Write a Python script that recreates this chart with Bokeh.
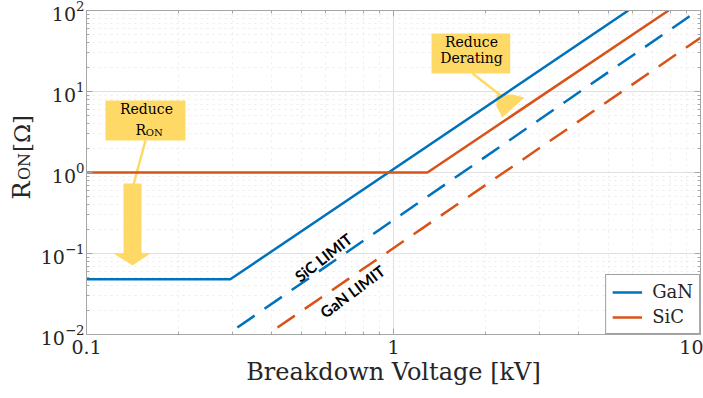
import math

from bokeh.embed import file_html
from bokeh.layouts import row
from bokeh.models import (BasicTickFormatter, CustomJSTickFormatter, FixedTicker, Label,
                          Legend, LegendItem, LogAxis, Range1d)
from bokeh.plotting import figure
from bokeh.resources import INLINE

# On-resistance versus breakdown voltage
gan_kv = [0.1, 0.294, 5.82]
gan_ohm = [0.048, 0.048, 100.0]
sic_kv = [0.1, 1.29, 7.87]
sic_ohm = [1.0, 1.0, 100.0]

# material limits (dashed)
sic_limit_kv = [0.31, 9.3]
sic_limit_ohm = [0.0122, 87.0]
gan_limit_kv = [0.419, 10.0]
gan_limit_ohm = [0.0122, 46.0]

x_ticks = [0.1, 1, 10]
x_tick_labels = ["0.1", "1", "10"]
y_ticks = [0.01, 0.1, 1, 10, 100]

BLUE = "#0072BD"
RED = "#D95319"
YELLOW = "#FFD966"
SERIF = "DejaVu Serif"
FRAME = "#a6a6a6"
INK = "#262626"

LABEL_W = 37  # strip holding the rotated y-axis title
HEIGHT = 398
TOP, BOTTOM = 10, 64

p = figure(width=703 - LABEL_W, height=HEIGHT, x_axis_type="log", y_axis_type="log",
           x_range=Range1d(0.1, 10), y_range=Range1d(0.01, 100),
           output_backend="svg", toolbar_location=None,
           min_border_left=86 - LABEL_W, min_border_right=3, min_border_top=TOP,
           min_border_bottom=BOTTOM)
p.outline_line_color = FRAME
p.background_fill_color = "white"

# grid
for g in (p.xgrid, p.ygrid):
    g.grid_line_color = "#e0e0e0"
    g.minor_grid_line_color = "#ececec"
    g.minor_grid_line_dash = "dotted"

# bottom / left axes
xa = p.xaxis[0]
xa.ticker = FixedTicker(ticks=x_ticks, minor_ticks=[v * m for v in (0.1, 1) for m in range(2, 10)])
xa.major_label_overrides = {t: s for t, s in zip(x_ticks, x_tick_labels)}
xa.formatter = BasicTickFormatter()
xa.axis_label = "Breakdown Voltage [kV]"
ya = p.yaxis[0]
ya.ticker = FixedTicker(ticks=y_ticks, minor_ticks=[v * m for v in y_ticks[:-1] for m in range(2, 10)])
for ax in (xa, ya):
    ax.axis_line_color = FRAME
    ax.major_tick_line_color = FRAME
    ax.minor_tick_line_color = FRAME
    ax.major_tick_in = 6
    ax.major_tick_out = 0
    ax.minor_tick_in = 3
    ax.minor_tick_out = 0
    ax.major_label_text_font = SERIF
    ax.major_label_text_font_size = "19px"
    ax.major_label_text_color = INK
xa.major_label_standoff = 5
ya.major_label_standoff = 2
xa.axis_label_text_font = SERIF
xa.axis_label_text_font_size = "24px"
xa.axis_label_text_font_style = "normal"
xa.axis_label_text_color = INK
xa.axis_label_standoff = 1

# tick marks on the opposite sides too
blank = CustomJSTickFormatter(code="return ''")
top = LogAxis(ticker=xa.ticker, formatter=blank)
right = LogAxis(ticker=ya.ticker, formatter=blank)
for ax in (top, right):
    ax.axis_line_color = FRAME
    ax.major_tick_line_color = FRAME
    ax.minor_tick_line_color = FRAME
    ax.major_tick_in = 6
    ax.major_tick_out = 0
    ax.minor_tick_in = 3
    ax.minor_tick_out = 0
    ax.major_label_standoff = 0
p.add_layout(top, "above")
p.add_layout(right, "right")

# "Reduce R_ON" callout
p.quad(left=0.1153, right=0.210, bottom=2.48, top=7.74, fill_color=YELLOW, line_color=None)
p.line([0.1556, 0.1423], [2.48, 0.711], line_color=YELLOW, line_width=2.5)
p.patch([0.1320, 0.1511, 0.1511, 0.1616, 0.1413, 0.1224, 0.1320],
        [0.731, 0.731, 0.1, 0.1, 0.0711, 0.1, 0.1], fill_color=YELLOW, line_color=None)
p.add_layout(Label(x=0.1568, y=4.78, text="Reduce", text_align="center", text_font=SERIF,
                   text_font_size="14px", text_color="black"))
p.add_layout(Label(x=0.1444, y=2.70, text="R", text_align="left", text_font=SERIF,
                   text_font_size="14px", text_color="black"))
p.add_layout(Label(x=0.1560, y=2.63, text="ON", text_align="left", text_font=SERIF,
                   text_font_size="10px", text_color="black"))

# "Reduce Derating" callout
p.quad(left=1.33, right=2.40, bottom=16.7, top=52.0, fill_color=YELLOW, line_color=None)
p.line([1.81, 2.28], [16.7, 8.43], line_color=YELLOW, line_width=2.5)
p.patch([2.165, 2.441, 2.672, 2.265, 2.165], [9.18, 9.18, 8.43, 4.78, 6.53],
        fill_color=YELLOW, line_color=None)
p.add_layout(Label(x=1.795, y=32.1, text="Reduce", text_align="center", text_font=SERIF,
                   text_font_size="14px", text_color="black"))
p.add_layout(Label(x=1.795, y=20.4, text="Derating", text_align="center", text_font=SERIF,
                   text_font_size="14px", text_color="black"))

# curves
gan_r = p.line(gan_kv, gan_ohm, line_color=BLUE, line_width=2.5)
sic_r = p.line(sic_kv, sic_ohm, line_color=RED, line_width=2.5)
p.line(sic_limit_kv, sic_limit_ohm, line_color=BLUE, line_width=2.5, line_dash="21 12")
p.line(gan_limit_kv, gan_limit_ohm, line_color=RED, line_width=2.5, line_dash="21 12")

p.add_layout(Label(x=0.591, y=0.0893, text="SiC LIMIT", angle=0.66, text_align="center",
                   text_baseline="middle", text_font="Lato", text_font_style="bold",
                   text_font_size="15.5px", text_color="black"))
p.add_layout(Label(x=0.735, y=0.034, text="GaN LIMIT", angle=0.64, text_align="center",
                   text_baseline="middle", text_font="Lato", text_font_style="bold",
                   text_font_size="15.5px", text_color="black"))

legend = Legend(items=[LegendItem(label="GaN", renderers=[gan_r]),
                       LegendItem(label="SiC", renderers=[sic_r])],
                location="bottom_right", margin=0, padding=6, spacing=4,
                glyph_width=30, glyph_height=20, label_height=20, label_standoff=10,
                border_line_color="#404040", border_line_width=1,
                label_text_font=SERIF, label_text_font_size="18px", label_text_color=INK)
p.add_layout(legend)

# rotated y-axis title "R_ON [Ω]" in its own strip; the strip's frame lines up with the
# plot frame, so its y range is given in page pixels measured from the bottom edge
ylab = figure(width=LABEL_W, height=HEIGHT, x_range=Range1d(0, LABEL_W),
              y_range=Range1d(BOTTOM, HEIGHT - TOP), output_backend="svg",
              toolbar_location=None, min_border=0, min_border_top=TOP,
              min_border_bottom=BOTTOM, title=None)
ylab.axis.visible = False
ylab.grid.visible = False
ylab.outline_line_color = None
for txt, cx, cy, size in (("R", 21, HEIGHT - 190, "24px"), ("ON", 24, HEIGHT - 166, "16px"),
                          ("[Ω]", 21, HEIGHT - 133, "23px")):
    ylab.add_layout(Label(x=cx, y=cy, text=txt, angle=math.pi / 2, text_align="center",
                          text_baseline="middle", text_font=SERIF, text_font_size=size,
                          text_color=INK))

layout = row(ylab, p, spacing=0)
open("out.html", "w").write(file_html(layout, INLINE))
